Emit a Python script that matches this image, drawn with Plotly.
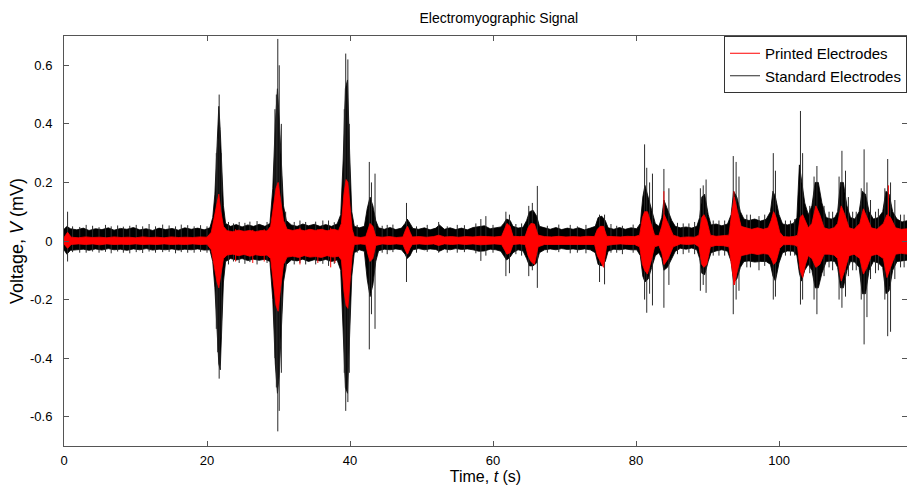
import plotly.graph_objects as go

# envelope of the dense part of each signal (t in s, V in mV)
std_t = [0.0, 0.4, 0.9, 1.8, 2.7, 3.5, 4.4, 5.3, 6.2, 7.0, 7.9, 8.8, 9.7, 10.6, 11.5, 12.4, 13.3, 14.2,
         15.1, 16.0, 16.9, 17.8, 18.7, 19.6, 20.4,
         20.8, 21.1, 21.4, 21.65, 21.85, 22.05, 22.3, 22.6,
         23.3, 24.1, 24.9, 25.7, 26.5, 27.3, 28.1, 28.8,
         29.2, 29.55, 29.85, 30.1, 30.4, 30.7, 31.1,
         31.8, 32.6, 33.4, 34.2, 35.0, 35.8, 36.6, 37.4, 38.2,
         38.7, 39.05, 39.35, 39.65, 39.95, 40.25, 40.6,
         41.3, 42.0, 42.4, 42.8, 43.2, 43.6, 44.0,
         44.8, 45.6, 46.4, 47.2, 47.7, 48.0, 48.4, 48.8,
         49.6, 50.4, 51.2, 52.0, 52.5, 53.2, 54.0, 54.8, 55.6, 56.4, 57.2, 58.0, 58.8, 59.6, 60.4, 61.1,
         61.5, 61.9, 62.4, 62.8, 63.5, 64.2,
         64.7, 65.1, 65.6, 66.1, 66.5,
         67.2, 68.0, 68.8, 69.6, 70.4, 71.2, 72.0, 72.8, 73.6,
         74.3, 74.7, 75.2, 75.7, 76.1,
         76.9, 77.7, 78.5, 79.3, 80.1,
         80.6, 80.95, 81.25, 81.7, 82.2, 82.7, 83.2,
         83.6, 83.9, 84.4, 85.0, 85.5,
         86.2, 87.0, 87.8, 88.5,
         88.9, 89.2, 89.6, 90.1, 90.5,
         91.2, 92.0, 92.8,
         93.3, 93.65, 94.1, 94.6, 95.1,
         95.8, 96.6, 97.4, 98.2,
         98.8, 99.15, 99.5, 100.0, 100.5,
         101.2, 102.0,
         102.5, 102.85, 103.15, 103.6, 104.1,
         104.6, 105.05, 105.5, 106.0, 106.6,
         107.3, 107.8,
         108.2, 108.6, 109.0, 109.5, 110.0,
         110.6,
         111.2, 111.65, 112.1, 112.6, 113.2,
         113.9,
         114.5, 114.95, 115.4, 115.9, 116.5, 117.2, 118.0]
std_hi = [0.04, 0.05, 0.042, 0.038, 0.044, 0.036, 0.042, 0.039, 0.045, 0.037, 0.043, 0.04, 0.046, 0.038,
          0.042, 0.036, 0.044, 0.039, 0.043, 0.037, 0.045, 0.04, 0.044, 0.038, 0.045,
          0.08, 0.16, 0.3, 0.46, 0.38, 0.24, 0.12, 0.06,
          0.05, 0.056, 0.048, 0.055, 0.05, 0.057, 0.05, 0.06,
          0.18, 0.4, 0.52, 0.42, 0.24, 0.12, 0.07,
          0.055, 0.05, 0.058, 0.052, 0.057, 0.05, 0.056, 0.05, 0.058,
          0.09, 0.28, 0.52, 0.55, 0.3, 0.1, 0.05,
          0.045, 0.05, 0.11, 0.15, 0.12, 0.07, 0.045,
          0.04, 0.046, 0.039, 0.044, 0.06, 0.075, 0.06, 0.043,
          0.04, 0.045, 0.038, 0.044, 0.055, 0.04, 0.045, 0.039, 0.044, 0.038, 0.046, 0.05, 0.052, 0.042,
          0.045, 0.048,
          0.06, 0.075, 0.07, 0.05, 0.044, 0.047,
          0.07, 0.1, 0.105, 0.085, 0.05,
          0.045, 0.04, 0.046, 0.039, 0.044, 0.04, 0.045, 0.038, 0.044,
          0.05, 0.08, 0.085, 0.07, 0.045,
          0.04, 0.046, 0.04, 0.045, 0.042,
          0.06, 0.15, 0.19, 0.15, 0.1, 0.06, 0.05,
          0.08, 0.14, 0.11, 0.07, 0.05,
          0.045, 0.048, 0.044, 0.05,
          0.08, 0.15, 0.16, 0.09, 0.055,
          0.058, 0.052, 0.058,
          0.09, 0.17, 0.15, 0.1, 0.075,
          0.07, 0.075, 0.068, 0.074,
          0.1, 0.17, 0.15, 0.09, 0.058,
          0.055, 0.06,
          0.08, 0.26, 0.21, 0.13, 0.09,
          0.12, 0.2, 0.2, 0.13, 0.08,
          0.075, 0.08,
          0.1, 0.2, 0.2, 0.12, 0.08,
          0.075,
          0.1, 0.17, 0.16, 0.1, 0.075,
          0.08,
          0.1, 0.17, 0.16, 0.1, 0.075, 0.065, 0.07]
std_lo = [-0.03, -0.045, -0.032, -0.03, -0.028, -0.032, -0.027, -0.031, -0.026, -0.03, -0.028, -0.032,
          -0.027, -0.03, -0.026, -0.031, -0.028, -0.03, -0.027, -0.031, -0.028, -0.03, -0.027, -0.031, -0.03,
          -0.07, -0.16, -0.28, -0.42, -0.44, -0.3, -0.14, -0.07,
          -0.06, -0.065, -0.06, -0.067, -0.062, -0.066, -0.062, -0.07,
          -0.2, -0.42, -0.52, -0.46, -0.28, -0.14, -0.08,
          -0.065, -0.068, -0.062, -0.07, -0.064, -0.068, -0.063, -0.07, -0.065,
          -0.1, -0.3, -0.5, -0.52, -0.32, -0.12, -0.04,
          -0.03, -0.035, -0.13, -0.19, -0.15, -0.07, -0.033,
          -0.028, -0.03, -0.027, -0.03, -0.045, -0.06, -0.05, -0.03,
          -0.026, -0.03, -0.027, -0.029, -0.035, -0.027, -0.03, -0.026, -0.029, -0.027, -0.03, -0.035, -0.034,
          -0.028, -0.03, -0.035,
          -0.05, -0.065, -0.055, -0.04, -0.03, -0.034,
          -0.06, -0.085, -0.085, -0.075, -0.04,
          -0.03, -0.027, -0.03, -0.026, -0.029, -0.027, -0.03, -0.027, -0.03,
          -0.04, -0.08, -0.085, -0.07, -0.035,
          -0.028, -0.03, -0.027, -0.03, -0.03,
          -0.05, -0.12, -0.14, -0.13, -0.09, -0.05, -0.04,
          -0.06, -0.1, -0.09, -0.06, -0.035,
          -0.025, -0.028, -0.024, -0.03,
          -0.06, -0.11, -0.115, -0.07, -0.04,
          -0.034, -0.03, -0.035,
          -0.07, -0.14, -0.13, -0.09, -0.07,
          -0.068, -0.072, -0.07, -0.07,
          -0.08, -0.12, -0.137, -0.075, -0.04,
          -0.034, -0.035,
          -0.05, -0.11, -0.137, -0.1, -0.08,
          -0.1, -0.16, -0.16, -0.11, -0.07,
          -0.068, -0.07,
          -0.09, -0.16, -0.16, -0.1, -0.07,
          -0.072,
          -0.09, -0.18, -0.18, -0.1, -0.07,
          -0.075,
          -0.09, -0.18, -0.17, -0.1, -0.07, -0.068, -0.065]

# isolated spikes that stick out of the dense band
std_spike_t = [0.5, 3.1, 9.2, 13.8, 17.3, 21.3, 21.5, 21.7, 22.0, 24.5, 27.0, 29.5, 29.7, 29.9, 30.1, 30.4,
               31.0, 33.8, 36.2, 39.2, 39.4, 39.7, 39.9, 42.7, 43.0, 43.5, 45.2, 47.9, 52.4, 55.0, 58.3,
               59.0, 61.8, 62.3, 65.0, 65.5, 66.2, 70.8, 74.9, 75.6, 77.3, 81.2, 81.5, 81.9, 82.3, 83.9,
               84.6, 86.6, 89.0, 89.4, 89.8, 91.6, 93.6, 94.0, 94.4, 96.0, 97.2, 99.2, 99.5, 101.6, 103.0,
               103.3, 104.9, 105.3, 107.5, 108.4, 108.8, 109.3, 110.3, 111.5, 111.9, 112.3, 113.5, 114.8,
               115.2, 115.6, 117.0]
std_spike_hi = [0.1, 0.055, 0.052, 0.056, 0.054, 0.3, 0.35, 0.5, 0.3, 0.065, 0.068, 0.45, 0.5, 0.69, 0.6,
                0.4, 0.1, 0.065, 0.07, 0.45, 0.64, 0.62, 0.4, 0.27, 0.2, 0.23, 0.055, 0.13, 0.065, 0.055,
                0.075, 0.085, 0.1, 0.09, 0.12, 0.13, 0.188, 0.055, 0.09, 0.09, 0.052, 0.33, 0.25, 0.2,
                0.23, 0.246, 0.18, 0.06, 0.18, 0.19, 0.21, 0.07, 0.29, 0.27, 0.22, 0.09, 0.085, 0.3, 0.24,
                0.07, 0.444, 0.3, 0.22, 0.256, 0.1, 0.22, 0.308, 0.24, 0.1, 0.18, 0.313, 0.2, 0.1, 0.18,
                0.28, 0.2, 0.09]
std_spike_lo = [-0.07, -0.04, -0.042, -0.038, -0.04, -0.3, -0.38, -0.47, -0.33, -0.075, -0.08, -0.4, -0.5,
                -0.65, -0.58, -0.45, -0.1, -0.08, -0.078, -0.45, -0.58, -0.55, -0.45, -0.37, -0.25, -0.3,
                -0.045, -0.14, -0.04, -0.04, -0.068, -0.05, -0.12, -0.11, -0.12, -0.1, -0.16, -0.042,
                -0.14, -0.148, -0.04, -0.2, -0.245, -0.18, -0.22, -0.228, -0.15, -0.045, -0.17, -0.15,
                -0.177, -0.05, -0.25, -0.2, -0.17, -0.09, -0.1, -0.2, -0.19, -0.05, -0.217, -0.2, -0.2,
                -0.25, -0.1, -0.2, -0.228, -0.19, -0.1, -0.2, -0.353, -0.26, -0.11, -0.2, -0.325, -0.31,
                -0.09]

# small spikes that make the edge of the black band ragged
std_noise_t = [1.2, 2.2, 4.0, 4.9, 5.8, 6.6, 7.5, 8.3, 10.1, 11.0, 11.9, 12.8, 14.7, 15.6, 16.4, 18.2,
               19.1, 20.0, 23.0, 23.7, 25.3, 26.0, 28.4, 32.2, 33.0, 35.2, 37.0, 37.8, 41.0, 44.5, 46.0,
               49.3, 50.8, 53.6, 56.0, 57.6, 60.0, 63.2, 64.0, 67.6, 69.2, 71.8, 73.0, 76.5, 78.1, 79.6,
               85.8, 87.4, 88.2, 90.8, 92.4, 95.5, 98.0, 100.9, 102.2, 104.3, 106.3, 107.0, 109.7, 110.8,
               112.8, 113.9, 116.2, 117.5]
std_noise_hi = [0.05, 0.048, 0.052, 0.047, 0.055, 0.05, 0.053, 0.049, 0.055, 0.05, 0.058, 0.05, 0.053,
                0.05, 0.056, 0.05, 0.054, 0.05, 0.065, 0.06, 0.062, 0.066, 0.065, 0.065, 0.07, 0.066, 0.07,
                0.064, 0.055, 0.052, 0.056, 0.05, 0.055, 0.05, 0.054, 0.06, 0.055, 0.058, 0.06, 0.052,
                0.056, 0.05, 0.055, 0.058, 0.052, 0.056, 0.062, 0.06, 0.065, 0.07, 0.07, 0.09, 0.09, 0.07,
                0.075, 0.12, 0.12, 0.1, 0.15, 0.1, 0.14, 0.11, 0.14, 0.09]
std_noise_lo = [-0.038, -0.04, -0.036, -0.04, -0.037, -0.042, -0.036, -0.04, -0.038, -0.041, -0.036,
                -0.04, -0.037, -0.042, -0.038, -0.04, -0.037, -0.04, -0.08, -0.07, -0.078, -0.072, -0.075,
                -0.08, -0.075, -0.08, -0.085, -0.078, -0.04, -0.04, -0.038, -0.04, -0.037, -0.04, -0.038,
                -0.042, -0.04, -0.045, -0.05, -0.04, -0.038, -0.04, -0.042, -0.04, -0.045, -0.04, -0.045,
                -0.04, -0.045, -0.05, -0.05, -0.09, -0.085, -0.05, -0.05, -0.11, -0.12, -0.09, -0.12,
                -0.1, -0.13, -0.1, -0.13, -0.09]

prt_t = [0.0, 0.5, 1.0, 2.0, 3.0, 4.0, 5.0, 6.0, 7.0, 8.0, 9.0, 10.0, 11.0, 12.0, 13.0, 14.0, 15.0, 16.0,
         17.0, 18.0, 19.0, 20.0, 20.6,
         21.0, 21.4, 21.65, 21.95, 22.3,
         22.8, 23.6, 24.4, 25.2, 26.0, 26.8, 27.6, 28.4, 28.9,
         29.3, 29.65, 29.95, 30.3, 30.7,
         31.2, 32.0, 32.8, 33.6, 34.4, 35.2, 36.0, 36.8, 37.6, 38.4, 38.8,
         39.15, 39.45, 39.7, 40.0, 40.3, 40.6,
         41.5, 42.2, 42.5, 42.8, 43.2, 43.6,
         44.5, 45.5, 46.5, 47.4, 47.8, 48.05, 48.4, 48.7,
         49.7, 50.7, 51.7, 52.4, 53.2, 54.2, 55.2, 56.2, 57.2, 58.2, 59.2, 60.2, 61.2,
         61.6, 61.95, 62.4, 62.8, 63.7, 64.5,
         64.9, 65.3, 65.8, 66.3,
         67.2, 68.2, 69.2, 70.2, 71.2, 72.2, 73.2, 74.2,
         74.6, 75.0, 75.45, 75.9,
         76.8, 77.8, 78.8, 79.8, 80.5,
         80.9, 81.2, 81.6, 82.1, 82.6, 83.2,
         83.6, 83.95, 84.5, 85.2,
         86.2, 87.2, 88.2, 88.8,
         89.2, 89.5, 89.9, 90.4,
         91.2, 92.2, 93.0,
         93.4, 93.75, 94.2, 94.7,
         95.4, 96.2, 97.0, 97.8, 98.5,
         98.9, 99.25, 99.6, 100.1, 100.6,
         101.4, 102.2, 102.6,
         102.95, 103.3, 103.7, 104.1,
         104.6, 105.15, 105.7, 106.3,
         107.0, 107.7,
         108.2, 108.7, 109.2, 109.8,
         110.5,
         111.3, 111.8, 112.3, 112.9,
         113.7,
         114.6, 115.1, 115.6, 116.3, 117.1, 118.0]
prt_hi = [0.012, 0.03, 0.013, 0.011, 0.014, 0.012, 0.013, 0.011, 0.014, 0.012, 0.013, 0.011, 0.014, 0.012,
          0.013, 0.011, 0.014, 0.012, 0.013, 0.012, 0.014, 0.013, 0.03,
          0.08, 0.14, 0.16, 0.1, 0.05,
          0.035, 0.032, 0.037, 0.033, 0.036, 0.032, 0.036, 0.034, 0.05,
          0.12, 0.18, 0.2, 0.14, 0.07,
          0.04, 0.036, 0.04, 0.035, 0.04, 0.036, 0.04, 0.035, 0.04, 0.036, 0.06,
          0.16, 0.21, 0.2, 0.12, 0.04, 0.015,
          0.012, 0.015, 0.04, 0.06, 0.05, 0.015,
          0.013, 0.015, 0.012, 0.014, 0.04, 0.05, 0.03, 0.014,
          0.015, 0.013, 0.015, 0.02, 0.014, 0.015, 0.013, 0.015, 0.014, 0.016, 0.015, 0.014, 0.016,
          0.04, 0.06, 0.05, 0.016, 0.015, 0.016,
          0.045, 0.06, 0.058, 0.02,
          0.015, 0.014, 0.016, 0.014, 0.015, 0.014, 0.016, 0.015,
          0.04, 0.05, 0.05, 0.016,
          0.015, 0.014, 0.016, 0.015, 0.02,
          0.08, 0.1, 0.1, 0.06, 0.02, 0.018,
          0.05, 0.09, 0.06, 0.02,
          0.012, 0.014, 0.013, 0.02,
          0.08, 0.09, 0.07, 0.02,
          0.016, 0.018, 0.02,
          0.1, 0.15, 0.1, 0.05,
          0.045, 0.04, 0.045, 0.04, 0.045,
          0.07, 0.1, 0.08, 0.03, 0.015,
          0.014, 0.016, 0.02,
          0.08, 0.09, 0.07, 0.045,
          0.06, 0.12, 0.09, 0.045,
          0.04, 0.045,
          0.06, 0.12, 0.09, 0.045,
          0.04,
          0.06, 0.11, 0.08, 0.045,
          0.04,
          0.06, 0.09, 0.08, 0.045, 0.04, 0.042]
prt_lo = [-0.01, -0.025, -0.012, -0.01, -0.012, -0.01, -0.013, -0.01, -0.012, -0.011, -0.012, -0.01, -0.012,
          -0.011, -0.012, -0.01, -0.012, -0.011, -0.012, -0.01, -0.012, -0.011, -0.03,
          -0.08, -0.14, -0.16, -0.12, -0.06,
          -0.048, -0.045, -0.05, -0.046, -0.052, -0.047, -0.05, -0.048, -0.06,
          -0.14, -0.22, -0.24, -0.16, -0.08,
          -0.055, -0.052, -0.056, -0.05, -0.055, -0.053, -0.056, -0.05, -0.055, -0.052, -0.065,
          -0.17, -0.22, -0.23, -0.14, -0.05, -0.012,
          -0.01, -0.012, -0.045, -0.07, -0.06, -0.015,
          -0.01, -0.012, -0.01, -0.012, -0.035, -0.045, -0.025, -0.012,
          -0.01, -0.012, -0.01, -0.015, -0.01, -0.012, -0.01, -0.012, -0.01, -0.013, -0.012, -0.01, -0.012,
          -0.03, -0.045, -0.04, -0.012, -0.01, -0.012,
          -0.05, -0.07, -0.08, -0.02,
          -0.012, -0.01, -0.012, -0.01, -0.012, -0.01, -0.012, -0.012,
          -0.05, -0.07, -0.09, -0.015,
          -0.012, -0.01, -0.012, -0.012, -0.02,
          -0.08, -0.1, -0.113, -0.07, -0.02, -0.015,
          -0.04, -0.08, -0.06, -0.02,
          -0.01, -0.012, -0.01, -0.02,
          -0.08, -0.09, -0.08, -0.02,
          -0.015, -0.016, -0.02,
          -0.09, -0.15, -0.1, -0.05,
          -0.045, -0.042, -0.046, -0.043, -0.045,
          -0.06, -0.08, -0.07, -0.025, -0.013,
          -0.012, -0.014, -0.02,
          -0.1, -0.125, -0.08, -0.05,
          -0.06, -0.09, -0.08, -0.045,
          -0.045, -0.048,
          -0.06, -0.137, -0.1, -0.05,
          -0.045,
          -0.06, -0.113, -0.09, -0.05,
          -0.045,
          -0.06, -0.125, -0.09, -0.045, -0.042, -0.045]

prt_spike_t = [24.0, 26.4, 28.0, 33.0, 35.5, 37.3, 37.9, 83.9, 93.7, 115.3]
prt_spike_hi = [0.04, 0.038, 0.04, 0.045, 0.04, 0.045, 0.04, 0.17, 0.17, 0.19]
prt_spike_lo = [-0.07, -0.075, -0.07, -0.08, -0.075, -0.09, -0.075, -0.08, -0.15, -0.11]

y_ticks = [-0.6, -0.4, -0.2, 0, 0.2, 0.4, 0.6]
y_labels = ['-0.6', '-0.4', '-0.2', '0', '0.2', '0.4', '0.6']
x_ticks = [0, 20, 40, 60, 80, 100]


def band(t, hi, lo):
    return t + t[::-1], hi + lo[::-1]


def spikes(t, hi, lo):
    xs, ys = [], []
    for ti, h, l in zip(t, hi, lo):
        xs += [ti, ti, None]
        ys += [l, h, None]
    return xs, ys


fig = go.Figure()

bx, by = band(std_t, std_hi, std_lo)
fig.add_trace(go.Scatter(x=bx, y=by, fill='toself', fillcolor='black', mode='lines',
                         line=dict(color='black', width=0.8), showlegend=False,
                         legendgroup='std', hoverinfo='skip'))
sx, sy = spikes(std_spike_t + std_noise_t, std_spike_hi + std_noise_hi, std_spike_lo + std_noise_lo)
fig.add_trace(go.Scatter(x=sx, y=sy, mode='lines', line=dict(color='#2a2a2a', width=1),
                         name='Standard Electrodes', legendgroup='std', legendrank=2))

bx, by = band(prt_t, prt_hi, prt_lo)
fig.add_trace(go.Scatter(x=bx, y=by, fill='toself', fillcolor='red', mode='lines',
                         line=dict(color='red', width=0.8), showlegend=False,
                         legendgroup='prt', hoverinfo='skip'))
sx, sy = spikes(prt_spike_t, prt_spike_hi, prt_spike_lo)
fig.add_trace(go.Scatter(x=sx, y=sy, mode='lines', line=dict(color='red', width=1),
                         name='Printed Electrodes', legendgroup='prt', legendrank=1))

axis_style = dict(showline=True, linecolor='#555', linewidth=1, mirror='ticks', ticks='inside',
                  ticklen=5, tickcolor='#555', showgrid=False, zeroline=False,
                  tickfont=dict(size=13, color='black'))

fig.update_xaxes(range=[0, 117.9], tickvals=x_ticks, ticklabelstandoff=2,
                 title=dict(text='Time, <i>t</i> (s)', font=dict(size=16, color='black'), standoff=0),
                 **axis_style)
fig.update_yaxes(range=[-0.7, 0.7], tickvals=y_ticks, ticktext=y_labels, ticklabelstandoff=8,
                 title=dict(text='Voltage, <i>V</i> (mV)', font=dict(size=18, color='black'), standoff=1),
                 **axis_style)

fig.update_layout(
    width=907, height=486,
    margin=dict(l=64, r=0, t=36, b=40),
    paper_bgcolor='white', plot_bgcolor='white',
    font=dict(family='Arial, Liberation Sans, sans-serif', color='black'),
    title=dict(text='Electromyographic Signal', x=0.55, xanchor='center', y=1 - 18 / 486,
               yanchor='middle', font=dict(size=14, color='black')),
    legend=dict(x=1, xanchor='right', y=1.0, yanchor='top', bgcolor='white',
                bordercolor='#333', borderwidth=1, font=dict(size=15, color='black'),
                tracegroupgap=0, itemwidth=30),
)

# drop the page's default body margin so the fixed-size figure fills the window exactly
fig.write_html("out.html", config={'displayModeBar': False},
               post_script="document.body.style.margin = '0';")
